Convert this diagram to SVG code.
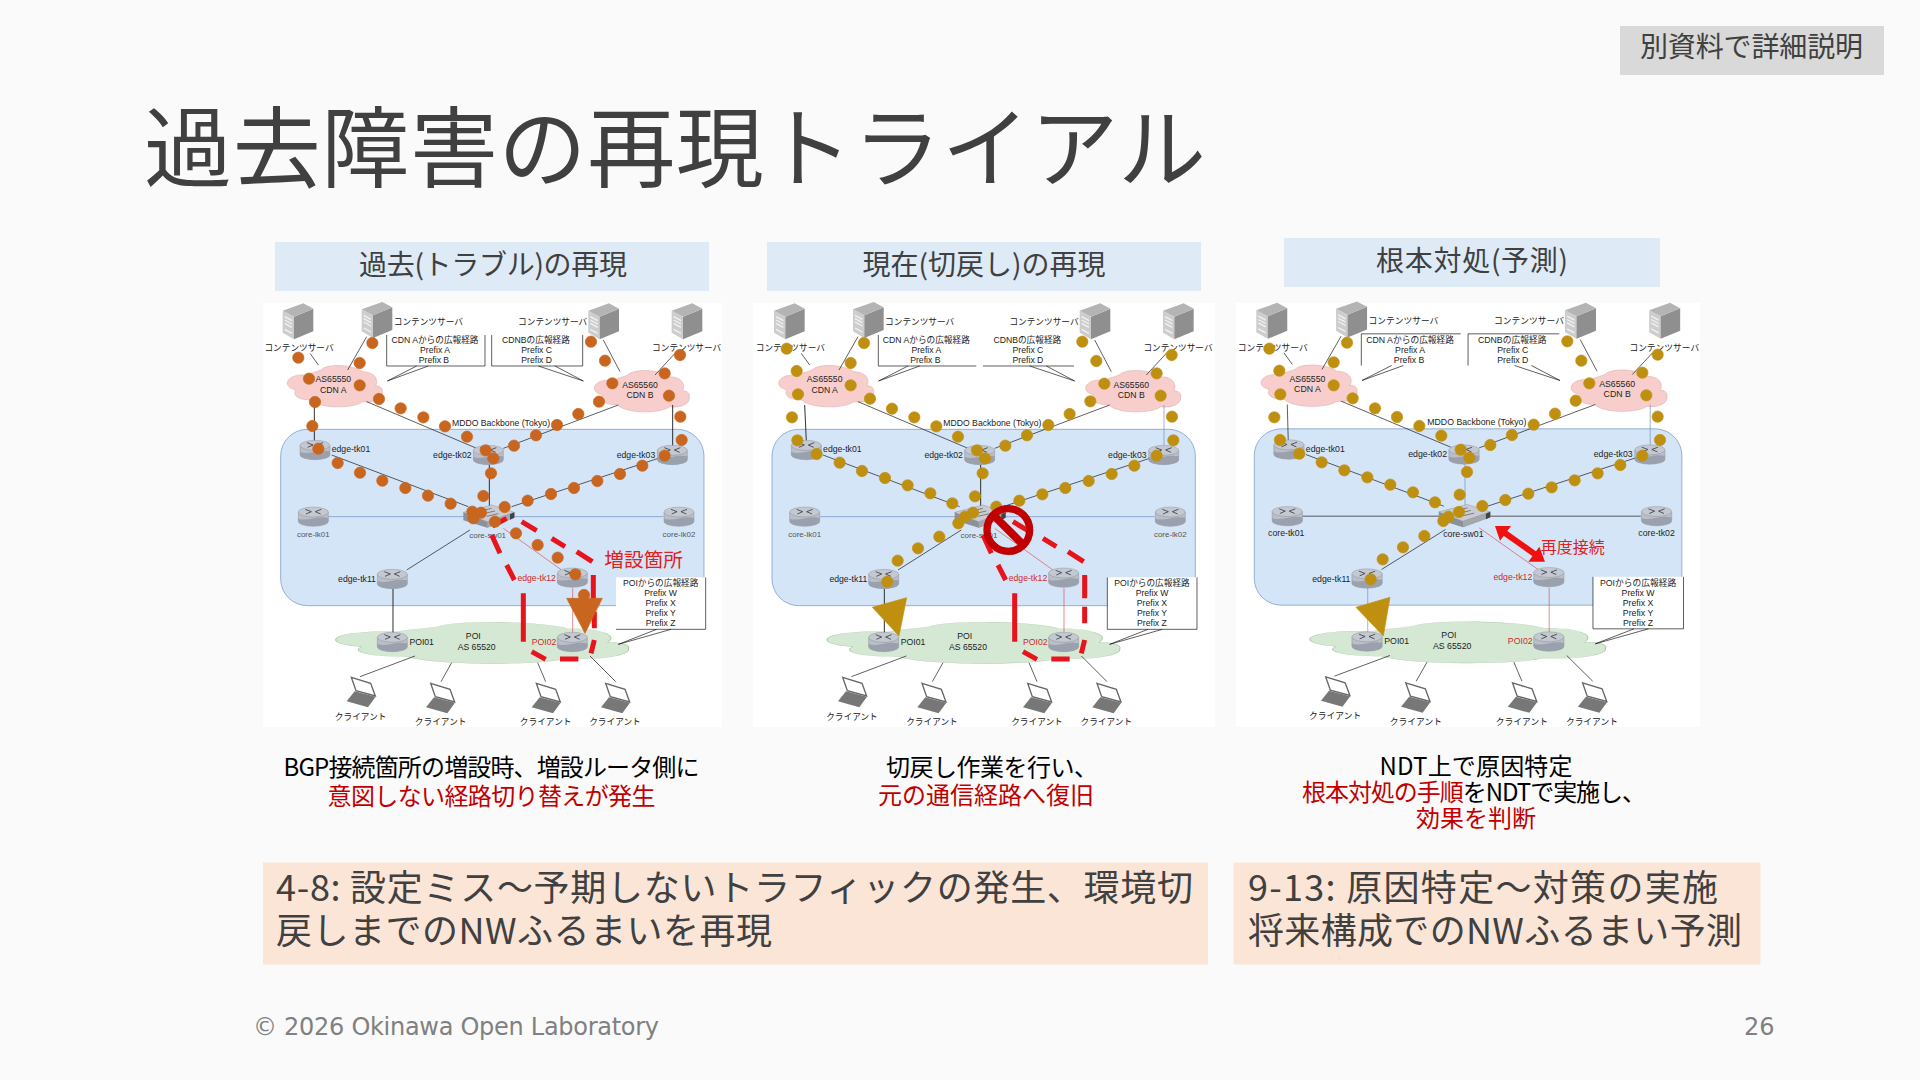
<svg xmlns="http://www.w3.org/2000/svg" width="1920" height="1080" viewBox="0 0 1920 1080">
<style>
text{font-family:"Noto Sans CJK JP","Liberation Sans",sans-serif}
.m{fill:#404040}
.cap{font-size:24px;fill:#000;text-anchor:middle}
.red{fill:#C00000}
.foot{font-family:"DejaVu Sans",sans-serif;font-size:24px;fill:#808080}
.s{font-family:"Liberation Sans","Noto Sans CJK JP",sans-serif;font-size:26px;fill:#222;text-anchor:middle}
.lt{fill:#555;font-size:24px}
.rd{fill:#D02828}
.c{stroke:#111;stroke-width:2;fill:none}
.b{stroke:#111;stroke-width:2.6;fill:none}
.bl{stroke:#6C8EBF;stroke-width:2;fill:none}
.r{stroke:#D84040;stroke-width:1.8;fill:none}
.d{stroke:#E8141C;stroke-width:15;fill:none}
.big{font-family:"Noto Sans CJK JP",sans-serif;fill:#E02020;text-anchor:middle}
.o{fill:#C8651E;stroke:#C8651E;stroke-width:2}
.g{fill:#BF9010;stroke:#BF9010;stroke-width:2}
</style>
<defs>
<g id="server">
<path d="M0 22L34 40V108L0 88Z" fill="#CDCDCD"/>
<path d="M34 40L92 16V84L34 108Z" fill="#8F8F8F"/>
<path d="M0 22L62 0L92 16L34 40Z" fill="#B4B4B4"/>
<path d="M6 40L28 52M6 50L28 62M6 60L28 72M6 78L28 90" stroke="#F2F2F2" stroke-width="4" fill="none"/>
</g>
<g id="router">
<path d="M-45 -14V14A45 15 0 0 0 45 14V-14Z" fill="#B9BEC8" stroke="#6E7480" stroke-width="1"/>
<path d="M-45 6C-20 16 10 -4 45 4V14A45 15 0 0 1 -45 14Z" fill="#9AA0AC"/>
<ellipse cx="0" cy="-14" rx="45" ry="15" fill="#C4C8D0" stroke="#7A808C" stroke-width="1"/>
<path d="M-24 -22L-6 -15L-22 -8M24 -22L6 -15L22 -8" stroke="#33363C" stroke-width="2.4" fill="none"/>
</g>
<g id="sw">
<path d="M0 22V46L72 68L153 38V22L72 50Z" fill="#8C9098"/>
<path d="M0 22L85 0L153 22L72 50Z" fill="#C9CCD2" stroke="#777" stroke-width="1"/>
<path d="M72 50V68L153 38V22Z" fill="#A4A8AE"/>
<path d="M140 28L153 22V38L140 44Z" fill="#3F4247"/>
<path d="M50 18L85 10M60 26L95 18M70 34L105 26" stroke="#555" stroke-width="2" fill="none"/>
</g>
<g id="laptop">
<path d="M14 2L72 20L86 58L28 42Z" fill="#FFF" stroke="#666" stroke-width="4"/>
<path d="M24 44L87 60L64 92L0 74Z" fill="#777"/>
</g>
<path id="cloud" d="M60 30C20 25 0 40 0 52C0 62 10 68 25 72C15 85 30 100 70 100C95 125 200 125 225 105C260 110 288 95 285 78C288 65 275 60 265 60C275 40 260 20 225 20C200 0 120 -5 100 15C85 22 70 22 60 30Z"/>
</defs>
<rect id="bg" width="1920" height="1080" fill="#FAFAFA"/>
<g id="title"><text x="144" y="180" font-size="88" class="m" textLength="1062" lengthAdjust="spacing">過去障害の再現トライアル</text></g>
<g id="tag"><rect x="1620" y="26" width="264" height="49" fill="#D9D9D9"/><text x="1640" y="57" font-size="28" class="m" textLength="223">別資料で詳細説明</text></g>
<g id="heads">
<rect x="275" y="242" width="434" height="49" fill="#DEEAF6"/><text x="493" y="275" font-size="28" class="m" text-anchor="middle" textLength="268">過去(トラブル)の再現</text>
<rect x="767" y="242" width="434" height="49" fill="#DEEAF6"/><text x="984" y="275" font-size="28" class="m" text-anchor="middle">現在(切戻し)の再現</text>
<rect x="1284" y="238" width="376" height="49" fill="#DEEAF6"/><text x="1472" y="271" font-size="28" class="m" text-anchor="middle" textLength="192">根本対処(予測)</text>
</g>
<g id="whites" fill="#FFF">
<rect x="263" y="303" width="459" height="424"/>
<rect x="753" y="303" width="462" height="424"/>
<rect x="1236" y="303" width="464" height="424"/>
</g>

<g id="panel1" transform="translate(255,290) scale(.33333)">
<g id="p1-region"><rect x="77" y="418" width="1270" height="529" rx="80" fill="#D5E5F8" stroke="#6C8EBF" stroke-width="2"/></g>
<g id="p1-clouds">
<use href="#cloud" transform="translate(97,224) scale(1,1.06)" fill="#F8CECC" stroke="#D8A8A8" stroke-width="1.5"/>
<use href="#cloud" transform="translate(1018,239) scale(1,1.06)" fill="#F8CECC" stroke="#D8A8A8" stroke-width="1.5"/>
<use href="#cloud" transform="translate(242,994) scale(3.08,1.06)" fill="#D5E8D4" stroke="#A8C8A5" stroke-width="1"/>
</g>
<g id="p1-connectors">
<path class="c" d="M165 190L190 225M335 140L278 240M1045 150L1095 245M1260 190L1200 255M335 335L665 475M1090 345L745 475M230 495L640 650M1210 505L770 650M645 720L455 840M480 1098L315 1160M590 1118L558 1175M848 1118L872 1175M1005 1098L1082 1175"/>
<path class="b" d="M178 345V455M1253 345V470M703 520V650M414 895V1030"/>
<path class="bl" d="M220 680H630M775 680H1225"/>
<path class="r" d="M745 715L920 840M953 895V1030"/>
<path class="c" d="M395 135V228H690V135M710 135V228H983V135M485 228L397 273L520 228M850 228L985 273L900 228"/>
</g>
<g id="p1-callout-poi"><rect x="1083" y="862" width="269" height="156" fill="#FFF"/><path class="c" d="M1083 1018H1352V862M1248 1018L1090 1063L1205 1018"/></g>
<g id="p1-servers"><use href="#server" x="83" y="40"/><use href="#server" x="320" y="36"/><use href="#server" x="1000" y="40"/><use href="#server" x="1250" y="40"/></g>
<g id="p1-edge-tk01"><use href="#router" x="180" y="480"/><text class="s" x="288" y="487">edge-tk01</text></g>
<g id="p1-edge-tk02"><use href="#router" x="700" y="495"/><text class="s" x="592" y="504">edge-tk02</text></g>
<g id="p1-edge-tk03"><use href="#router" x="1252" y="495"/><text class="s" x="1143" y="504">edge-tk03</text></g>
<g id="p1-core-lk01"><use href="#router" x="175" y="680"/><text class="s lt" x="175" y="740">core-lk01</text></g>
<g id="p1-core-lk02"><use href="#router" x="1272" y="680"/><text class="s lt" x="1272" y="740">core-lk02</text></g>
<g id="p1-core-sw01"><use href="#sw" x="625" y="645"/><text class="s lt" x="698" y="743">core-sw01</text></g>
<g id="p1-edge-tk11"><use href="#router" x="412" y="867"/><text class="s" x="306" y="877">edge-tk11</text></g>
<g id="p1-edge-tk12"><use href="#router" x="952" y="863"/><text class="s rd" x="845" y="873">edge-tk12</text></g>
<g id="p1-poi01"><use href="#router" x="412" y="1056"/><text class="s" x="500" y="1064">POI01</text></g>
<g id="p1-poi02"><use href="#router" x="952" y="1056"/><text class="s rd" x="867" y="1064">POI02</text></g>
<g id="p1-clients"><use href="#laptop" x="275" y="1160"/><use href="#laptop" x="513" y="1178"/><use href="#laptop" x="830" y="1178"/><use href="#laptop" x="1038" y="1178"/>
<text class="s" x="317" y="1289">クライアント</text><text class="s" x="557" y="1306">クライアント</text><text class="s" x="872" y="1306">クライアント</text><text class="s" x="1080" y="1306">クライアント</text></g>
<g id="p1-labels">
<text class="s" x="132" y="184">コンテンツサーバ</text><text class="s" x="520" y="104">コンテンツサーバ</text><text class="s" x="893" y="104">コンテンツサーバ</text><text class="s" x="1295" y="184">コンテンツサーバ</text>
<text class="s" x="540" y="160">CDN Aからの広報経路</text><text class="s" x="540" y="190">Prefix A</text><text class="s" x="537" y="220">Prefix B</text>
<text class="s" x="843" y="160">CDNBの広報経路</text><text class="s" x="845" y="190">Prefix C</text><text class="s" x="845" y="220">Prefix D</text>
<text class="s" x="738" y="407">MDDO Backbone (Tokyo)</text>
<text class="s" x="235" y="277">AS65550</text><text class="s" x="235" y="309">CDN A</text>
<text class="s" x="1155" y="293">AS65560</text><text class="s" x="1155" y="324">CDN B</text>
<text class="s" x="655" y="1046">POI</text><text class="s" x="665" y="1079">AS 65520</text>
<text class="s" x="1217" y="889">POIからの広報経路</text><text class="s" x="1217" y="919">Prefix W</text><text class="s" x="1217" y="949">Prefix X</text><text class="s" x="1217" y="979">Prefix Y</text><text class="s" x="1217" y="1009">Prefix Z</text>
</g>
</g>
<g id="p1-overlay" transform="translate(255,290) scale(.33333)">
<path class="d" d="M712 708L755 685M800 695L845 722M890 745L930 770M965 785L1012 815M1015 855V935M1018 965V1015M1018 1050L1008 1090M970 1107H915M872 1108L830 1085M805 1055V910M778 870L755 825M735 790L710 735"/>
<text class="big" x="1166" y="830" font-size="59">増設箇所</text>
<g class="o">
<path d="M935 925H1042L990 1030Z"/>
<circle cx="130" cy="203" r="17"/><circle cx="162" cy="266" r="17"/><circle cx="180" cy="336" r="17"/><circle cx="172" cy="408" r="17"/><circle cx="190" cy="476" r="17"/><circle cx="248" cy="519" r="17"/><circle cx="315" cy="548" r="17"/><circle cx="382" cy="572" r="17"/><circle cx="451" cy="594" r="17"/><circle cx="519" cy="617" r="17"/><circle cx="587" cy="641" r="17"/><circle cx="652" cy="665" r="17"/><circle cx="655" cy="685" r="17"/><circle cx="678" cy="668" r="17"/><circle cx="685" cy="618" r="17"/><circle cx="708" cy="550" r="17"/><circle cx="715" cy="505" r="17"/><circle cx="692" cy="481" r="17"/><circle cx="636" cy="440" r="17"/><circle cx="570" cy="409" r="17"/><circle cx="505" cy="382" r="17"/><circle cx="437" cy="355" r="17"/><circle cx="372" cy="327" r="17"/><circle cx="314" cy="286" r="17"/><circle cx="314" cy="219" r="17"/><circle cx="352" cy="159" r="17"/><circle cx="1008" cy="155" r="17"/><circle cx="1050" cy="212" r="17"/><circle cx="1072" cy="280" r="17"/><circle cx="1032" cy="335" r="17"/><circle cx="970" cy="372" r="17"/><circle cx="906" cy="405" r="17"/><circle cx="843" cy="436" r="17"/><circle cx="777" cy="467" r="17"/><circle cx="749" cy="651" r="17"/><circle cx="818" cy="632" r="17"/><circle cx="888" cy="612" r="17"/><circle cx="957" cy="594" r="17"/><circle cx="1027" cy="573" r="17"/><circle cx="1095" cy="552" r="17"/><circle cx="1162" cy="527" r="17"/><circle cx="1229" cy="497" r="17"/><circle cx="1280" cy="450" r="17"/><circle cx="1276" cy="380" r="17"/><circle cx="1242" cy="317" r="17"/><circle cx="1229" cy="250" r="17"/><circle cx="1275" cy="195" r="17"/><circle cx="720" cy="695" r="17"/><circle cx="783" cy="730" r="17"/><circle cx="848" cy="765" r="17"/><circle cx="908" cy="803" r="17"/><circle cx="961" cy="853" r="17"/><circle cx="987" cy="915" r="17"/>
</g>
</g>

<g id="panel2" transform="translate(746.33,290) scale(.33333)">
<g id="p2-region"><rect x="77" y="418" width="1270" height="529" rx="80" fill="#D5E5F8" stroke="#6C8EBF" stroke-width="2"/></g>
<g id="p2-clouds">
<use href="#cloud" transform="translate(97,224) scale(1,1.06)" fill="#F8CECC" stroke="#D8A8A8" stroke-width="1.5"/>
<use href="#cloud" transform="translate(1018,239) scale(1,1.06)" fill="#F8CECC" stroke="#D8A8A8" stroke-width="1.5"/>
<use href="#cloud" transform="translate(242,994) scale(3.08,1.06)" fill="#D5E8D4" stroke="#A8C8A5" stroke-width="1"/>
</g>
<g id="p2-connectors">
<path class="c" d="M165 190L190 225M335 140L278 240M1045 150L1095 245M1260 190L1200 255M335 335L665 475M1090 345L745 475M230 495L640 650M1210 505L770 650M645 720L455 840M480 1098L315 1160M590 1118L558 1175M848 1118L872 1175M1005 1098L1082 1175"/>
<path class="b" d="M175 345L180 455M703 520V650M414 895V1030"/>
<path class="bl" d="M220 680H630M775 680H1225M1253 345V470"/>
<path class="r" d="M745 715L920 840M953 895V1030"/>
<path class="c" d="M396 135V228H690M710 228H983M485 228L397 273L520 228M850 228L985 273L900 228"/>
</g>
<g id="p2-callout-poi"><rect x="1083" y="862" width="269" height="156" fill="#FFF"/><path class="c" d="M1083 862V1018H1352V862M1248 1018L1090 1063L1205 1018"/></g>
<g id="p2-servers"><use href="#server" x="83" y="40"/><use href="#server" x="320" y="36"/><use href="#server" x="1000" y="40"/><use href="#server" x="1250" y="40"/></g>
<g id="p2-edge-tk01"><use href="#router" x="180" y="480"/><text class="s" x="288" y="487">edge-tk01</text></g>
<g id="p2-edge-tk02"><use href="#router" x="700" y="495"/><text class="s" x="592" y="504">edge-tk02</text></g>
<g id="p2-edge-tk03"><use href="#router" x="1252" y="495"/><text class="s" x="1143" y="504">edge-tk03</text></g>
<g id="p2-core-lk01"><use href="#router" x="175" y="680"/><text class="s lt" x="175" y="740">core-lk01</text></g>
<g id="p2-core-lk02"><use href="#router" x="1272" y="680"/><text class="s lt" x="1272" y="740">core-lk02</text></g>
<g id="p2-core-sw01"><use href="#sw" x="625" y="645"/><text class="s lt" x="698" y="743">core-sw01</text></g>
<g id="p2-edge-tk11"><use href="#router" x="412" y="867"/><text class="s" x="306" y="877">edge-tk11</text></g>
<g id="p2-edge-tk12"><use href="#router" x="952" y="863"/><text class="s rd" x="845" y="873">edge-tk12</text></g>
<g id="p2-poi01"><use href="#router" x="412" y="1056"/><text class="s" x="500" y="1064">POI01</text></g>
<g id="p2-poi02"><use href="#router" x="952" y="1056"/><text class="s rd" x="867" y="1064">POI02</text></g>
<g id="p2-clients"><use href="#laptop" x="275" y="1160"/><use href="#laptop" x="513" y="1178"/><use href="#laptop" x="830" y="1178"/><use href="#laptop" x="1038" y="1178"/>
<text class="s" x="317" y="1289">クライアント</text><text class="s" x="557" y="1306">クライアント</text><text class="s" x="872" y="1306">クライアント</text><text class="s" x="1080" y="1306">クライアント</text></g>
<g id="p2-labels">
<text class="s" x="132" y="184">コンテンツサーバ</text><text class="s" x="520" y="104">コンテンツサーバ</text><text class="s" x="893" y="104">コンテンツサーバ</text><text class="s" x="1295" y="184">コンテンツサーバ</text>
<text class="s" x="540" y="160">CDN Aからの広報経路</text><text class="s" x="540" y="190">Prefix A</text><text class="s" x="537" y="220">Prefix B</text>
<text class="s" x="843" y="160">CDNBの広報経路</text><text class="s" x="845" y="190">Prefix C</text><text class="s" x="845" y="220">Prefix D</text>
<text class="s" x="738" y="407">MDDO Backbone (Tokyo)</text>
<text class="s" x="235" y="277">AS65550</text><text class="s" x="235" y="309">CDN A</text>
<text class="s" x="1155" y="293">AS65560</text><text class="s" x="1155" y="324">CDN B</text>
<text class="s" x="655" y="1046">POI</text><text class="s" x="665" y="1079">AS 65520</text>
<text class="s" x="1217" y="889">POIからの広報経路</text><text class="s" x="1217" y="919">Prefix W</text><text class="s" x="1217" y="949">Prefix X</text><text class="s" x="1217" y="979">Prefix Y</text><text class="s" x="1217" y="1009">Prefix Z</text>
</g>
<path class="d" d="M800 695L845 722M890 745L930 770M965 785L1012 815M1015 855V925M1015 950V1000M1015 1050L1005 1090M970 1107H915M872 1108L830 1085M805 1055V910M778 870L755 825M735 790L710 735"/>
</g>
<g id="p2-overlay" transform="translate(745,290) scale(.33333)">
<g class="g">
<path d="M382 952L485 923L462 1038Z"/>
<circle cx="125" cy="176" r="17"/><circle cx="155" cy="243" r="17"/><circle cx="159" cy="313" r="17"/><circle cx="141" cy="382" r="17"/><circle cx="157" cy="451" r="17"/><circle cx="215" cy="492" r="17"/><circle cx="284" cy="518" r="17"/><circle cx="351" cy="543" r="17"/><circle cx="420" cy="564" r="17"/><circle cx="488" cy="586" r="17"/><circle cx="556" cy="610" r="17"/><circle cx="622" cy="640" r="17"/><circle cx="640" cy="700" r="17"/><circle cx="660" cy="680" r="17"/><circle cx="684" cy="668" r="17"/><circle cx="583" cy="740" r="17"/><circle cx="519" cy="775" r="17"/><circle cx="458" cy="812" r="17"/><circle cx="427" cy="875" r="17"/><circle cx="690" cy="619" r="17"/><circle cx="713" cy="550" r="17"/><circle cx="720" cy="505" r="17"/><circle cx="696" cy="481" r="17"/><circle cx="639" cy="440" r="17"/><circle cx="574" cy="409" r="17"/><circle cx="508" cy="382" r="17"/><circle cx="441" cy="356" r="17"/><circle cx="375" cy="326" r="17"/><circle cx="317" cy="286" r="17"/><circle cx="317" cy="219" r="17"/><circle cx="357" cy="159" r="17"/><circle cx="1012" cy="155" r="17"/><circle cx="1054" cy="213" r="17"/><circle cx="1078" cy="281" r="17"/><circle cx="1036" cy="334" r="17"/><circle cx="974" cy="372" r="17"/><circle cx="910" cy="405" r="17"/><circle cx="846" cy="436" r="17"/><circle cx="781" cy="467" r="17"/><circle cx="754" cy="650" r="17"/><circle cx="823" cy="632" r="17"/><circle cx="892" cy="613" r="17"/><circle cx="961" cy="594" r="17"/><circle cx="1031" cy="573" r="17"/><circle cx="1100" cy="552" r="17"/><circle cx="1168" cy="527" r="17"/><circle cx="1235" cy="497" r="17"/><circle cx="1285" cy="451" r="17"/><circle cx="1281" cy="380" r="17"/><circle cx="1247" cy="317" r="17"/><circle cx="1235" cy="250" r="17"/><circle cx="1280" cy="195" r="17"/>
</g>
<g id="p2-prohibit" fill="none" stroke="#C00000"><circle cx="790" cy="720" r="64" stroke-width="22"/><path d="M745 675L835 765" stroke-width="24"/></g>
</g>

<g id="panel3" transform="matrix(.33667 0 0 .33333 1228.35 289.5)">
<g id="p3-region"><rect x="77" y="418" width="1270" height="529" rx="80" fill="#D5E5F8" stroke="#6C8EBF" stroke-width="2"/></g>
<g id="p3-clouds">
<use href="#cloud" transform="translate(97,224) scale(1,1.06)" fill="#F8CECC" stroke="#D8A8A8" stroke-width="1.5"/>
<use href="#cloud" transform="translate(1018,239) scale(1,1.06)" fill="#F8CECC" stroke="#D8A8A8" stroke-width="1.5"/>
<use href="#cloud" transform="translate(242,994) scale(3.08,1.06)" fill="#D5E8D4" stroke="#A8C8A5" stroke-width="1"/>
</g>
<g id="p3-connectors">
<path class="c" d="M165 190L190 225M335 140L278 240M1045 150L1095 245M1260 190L1200 255M335 335L665 475M1090 345L745 475M230 495L640 650M1210 505L770 650M645 720L455 840M480 1098L315 1160M590 1118L558 1175M848 1118L872 1175M1005 1098L1082 1175"/>
<path class="c" d="M175 345L178 455M220 680H630M775 680H1225"/>
<path class="bl" d="M703 520V650M414 895V1030M1253 345V470"/>
<path class="r" d="M745 715L920 840M953 895V1030"/>
<path class="c" d="M395 228V133H690M712 228V133H983M485 228L397 273L520 228M850 228L985 273L900 228"/>
</g>
<g id="p3-callout-poi"><rect x="1083" y="862" width="269" height="156" fill="#FFF"/><path class="c" d="M1083 862V1018H1352V862M1248 1018L1090 1063L1205 1018"/></g>
<g id="p3-servers"><use href="#server" x="83" y="40"/><use href="#server" x="320" y="36"/><use href="#server" x="1000" y="40"/><use href="#server" x="1250" y="40"/></g>
<g id="p3-edge-tk01"><use href="#router" x="180" y="480"/><text class="s" x="288" y="487">edge-tk01</text></g>
<g id="p3-edge-tk02"><use href="#router" x="700" y="495"/><text class="s" x="592" y="504">edge-tk02</text></g>
<g id="p3-edge-tk03"><use href="#router" x="1252" y="495"/><text class="s" x="1143" y="504">edge-tk03</text></g>
<g id="p3-core-tk01"><use href="#router" x="175" y="680"/><text class="s" x="172" y="740">core-tk01</text></g>
<g id="p3-core-tk02"><use href="#router" x="1272" y="680"/><text class="s" x="1272" y="740">core-tk02</text></g>
<g id="p3-core-sw01"><use href="#sw" x="625" y="645"/><text class="s" x="698" y="743">core-sw01</text></g>
<g id="p3-edge-tk11"><use href="#router" x="412" y="867"/><text class="s" x="306" y="877">edge-tk11</text></g>
<g id="p3-edge-tk12"><use href="#router" x="952" y="863"/><text class="s rd" x="845" y="873">edge-tk12</text></g>
<g id="p3-poi01"><use href="#router" x="412" y="1056"/><text class="s" x="500" y="1064">POI01</text></g>
<g id="p3-poi02"><use href="#router" x="952" y="1056"/><text class="s rd" x="867" y="1064">POI02</text></g>
<g id="p3-clients"><use href="#laptop" x="275" y="1160"/><use href="#laptop" x="513" y="1178"/><use href="#laptop" x="830" y="1178"/><use href="#laptop" x="1038" y="1178"/>
<text class="s" x="317" y="1289">クライアント</text><text class="s" x="557" y="1306">クライアント</text><text class="s" x="872" y="1306">クライアント</text><text class="s" x="1080" y="1306">クライアント</text></g>
<g id="p3-labels">
<text class="s" x="132" y="184">コンテンツサーバ</text><text class="s" x="520" y="104">コンテンツサーバ</text><text class="s" x="893" y="104">コンテンツサーバ</text><text class="s" x="1295" y="184">コンテンツサーバ</text>
<text class="s" x="540" y="160">CDN Aからの広報経路</text><text class="s" x="540" y="190">Prefix A</text><text class="s" x="537" y="220">Prefix B</text>
<text class="s" x="843" y="160">CDNBの広報経路</text><text class="s" x="845" y="190">Prefix C</text><text class="s" x="845" y="220">Prefix D</text>
<text class="s" x="738" y="407">MDDO Backbone (Tokyo)</text>
<text class="s" x="235" y="277">AS65550</text><text class="s" x="235" y="309">CDN A</text>
<text class="s" x="1155" y="293">AS65560</text><text class="s" x="1155" y="324">CDN B</text>
<text class="s" x="655" y="1046">POI</text><text class="s" x="665" y="1079">AS 65520</text>
<text class="s" x="1217" y="889">POIからの広報経路</text><text class="s" x="1217" y="919">Prefix W</text><text class="s" x="1217" y="949">Prefix X</text><text class="s" x="1217" y="979">Prefix Y</text><text class="s" x="1217" y="1009">Prefix Z</text>
</g>
</g>
<g id="p3-overlay" transform="translate(1230,290) scale(.33333)">
<g id="p3-reconnect">
<path d="M812 720L925 800" stroke="#F01010" stroke-width="18" fill="none"/>
<path d="M795 708L843 708L810 752Z" fill="#F01010"/>
<path d="M945 815L895 815L928 770Z" fill="#F01010"/>
<text class="big" x="1028" y="790" font-size="48">再度接続</text>
</g>
<g class="g">
<path d="M378 952L480 922L460 1038Z"/>
<circle cx="118" cy="176" r="17"/><circle cx="148" cy="242" r="17"/><circle cx="151" cy="313" r="17"/><circle cx="133" cy="382" r="17"/><circle cx="150" cy="450" r="17"/><circle cx="208" cy="491" r="17"/><circle cx="275" cy="517" r="17"/><circle cx="343" cy="541" r="17"/><circle cx="412" cy="562" r="17"/><circle cx="481" cy="584" r="17"/><circle cx="549" cy="607" r="17"/><circle cx="615" cy="637" r="17"/><circle cx="640" cy="693" r="17"/><circle cx="655" cy="680" r="17"/><circle cx="687" cy="666" r="17"/><circle cx="583" cy="738" r="17"/><circle cx="519" cy="772" r="17"/><circle cx="458" cy="808" r="17"/><circle cx="422" cy="868" r="17"/><circle cx="689" cy="614" r="17"/><circle cx="711" cy="546" r="17"/><circle cx="718" cy="503" r="17"/><circle cx="692" cy="479" r="17"/><circle cx="634" cy="437" r="17"/><circle cx="568" cy="408" r="17"/><circle cx="501" cy="381" r="17"/><circle cx="435" cy="355" r="17"/><circle cx="368" cy="325" r="17"/><circle cx="311" cy="286" r="17"/><circle cx="311" cy="217" r="17"/><circle cx="351" cy="158" r="17"/><circle cx="1012" cy="154" r="17"/><circle cx="1054" cy="212" r="17"/><circle cx="1078" cy="280" r="17"/><circle cx="1037" cy="332" r="17"/><circle cx="975" cy="371" r="17"/><circle cx="911" cy="404" r="17"/><circle cx="846" cy="435" r="17"/><circle cx="781" cy="465" r="17"/><circle cx="757" cy="648" r="17"/><circle cx="826" cy="630" r="17"/><circle cx="895" cy="611" r="17"/><circle cx="965" cy="592" r="17"/><circle cx="1034" cy="571" r="17"/><circle cx="1103" cy="550" r="17"/><circle cx="1171" cy="525" r="17"/><circle cx="1237" cy="497" r="17"/><circle cx="1290" cy="450" r="17"/><circle cx="1283" cy="380" r="17"/><circle cx="1249" cy="316" r="17"/><circle cx="1237" cy="248" r="17"/><circle cx="1283" cy="194" r="17"/>
</g>
</g>

<g id="captions">
<text class="cap" x="491.5" y="776" textLength="416">BGP接続箇所の増設時、増設ルータ側に</text>
<text class="cap red" x="491.5" y="805" textLength="328">意図しない経路切り替えが発生</text>
<text class="cap" x="992" y="776" textLength="212">切戻し作業を行い、</text>
<text class="cap red" x="986" y="804">元の通信経路へ復旧</text>
<text class="cap" x="1476" y="775" textLength="193">NDT上で原因特定</text>
<text class="cap" x="1474" y="801" textLength="344"><tspan class="red">根本対処の手順</tspan>をNDTで実施し、</text>
<text class="cap red" x="1476" y="827">効果を判断</text>
</g>
<g id="box1"><rect x="263" y="862.5" width="945" height="102" fill="#FBE5D6"/>
<text x="276" y="901" font-size="36" class="m" textLength="917">4-8: 設定ミス～予期しないトラフィックの発生、環境切</text>
<text x="276" y="944" font-size="36" class="m" textLength="496">戻しまでのNWふるまいを再現</text></g>
<g id="box2"><rect x="1233.5" y="862.5" width="527" height="102" fill="#FBE5D6"/>
<text x="1248" y="901" font-size="36" class="m" textLength="470">9-13: 原因特定～対策の実施</text>
<text x="1248" y="944" font-size="36" class="m" textLength="494">将来構成でのNWふるまい予測</text></g>
<g id="footer"><text class="foot" x="253" y="1035" textLength="406">© 2026 Okinawa Open Laboratory</text><text class="foot" x="1744" y="1035">26</text></g>
</svg>
